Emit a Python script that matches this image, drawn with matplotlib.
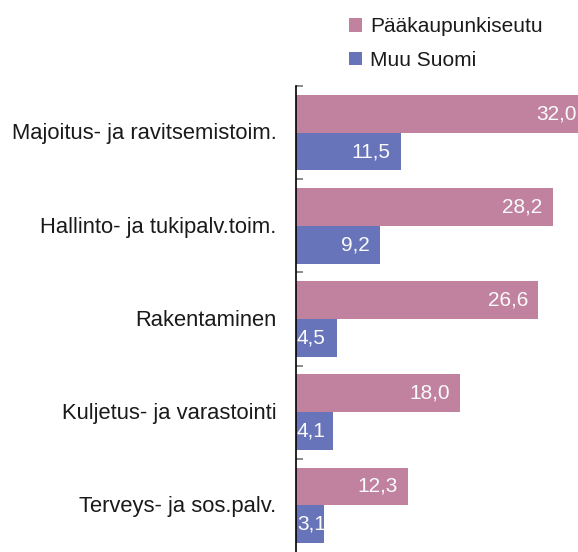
import matplotlib
matplotlib.use("Agg")
import matplotlib.pyplot as plt
import numpy as np

categories = ["Majoitus- ja ravitsemistoim.", "Hallinto- ja tukipalv.toim.",
              "Rakentaminen", "Kuljetus- ja varastointi", "Terveys- ja sos.palv."]
paakaupunkiseutu = [32.0, 28.2, 26.6, 18.0, 12.3]
muu_suomi = [11.5, 9.2, 4.5, 4.1, 3.1]
series_names = ["Pääkaupunkiseutu", "Muu Suomi"]
colors = ["#C0829F", "#6874BA"]

plt.rcParams['font.family'] = ['Liberation Sans', 'DejaVu Sans']

fig = plt.figure(figsize=(5.78, 5.52), dpi=100)
ax = fig.add_axes([296/578, 0.0, 1 - 296/578, 1 - 86/552])

n = len(categories)
y = np.arange(n)
h = 0.406
b1 = ax.barh(y - h/2, paakaupunkiseutu, height=h, color=colors[0], label=series_names[0])
b2 = ax.barh(y + h/2, muu_suomi, height=h, color=colors[1], label=series_names[1])

ax.set_xlim(0, 30.95)
ax.set_ylim(n - 0.5, -0.5)

def fmt(v):
    return f"{v:.1f}".replace(".", ",")

for vals, off in ((paakaupunkiseutu, -h/2), (muu_suomi, h/2)):
    for i, v in enumerate(vals):
        if v < 6:
            ax.text(0.1, i + off, fmt(v), ha='left', va='center', color='#fbfbfb',
                    fontsize=15, clip_on=True)
        else:
            t = ax.annotate(fmt(v), (v, i + off), xytext=(-7.5, 0), textcoords='offset points',
                            ha='right', va='center', color='#fbfbfb', fontsize=15,
                            annotation_clip=False)
            t.set_clip_on(True)

for s in ['top', 'right', 'bottom']:
    ax.spines[s].set_visible(False)
ax.spines['left'].set_color('black')
ax.spines['left'].set_linewidth(1.2)
ax.set_xticks([])
ax.set_yticks(np.arange(n) - 0.5, minor=False)
ax.set_yticklabels([])
ax.tick_params(axis='y', direction='in', length=5, color='#777777', width=1.2)
for i, c in enumerate(categories):
    ax.annotate(c, (0, i), xytext=(-14, -1), textcoords='offset points',
                ha='right', va='center', fontsize=15.8, color='#1a1a1a',
                annotation_clip=False)

fig.legend(handles=[b1, b2], labels=series_names, loc='upper left',
           bbox_to_anchor=(341/578, 1 - 9/552), frameon=False, fontsize=15,
           handlelength=0.6, handleheight=0.6, handletextpad=0.4,
           labelspacing=0.7, borderaxespad=0, labelcolor='#1a1a1a')

fig.savefig("out.png", dpi=100)
